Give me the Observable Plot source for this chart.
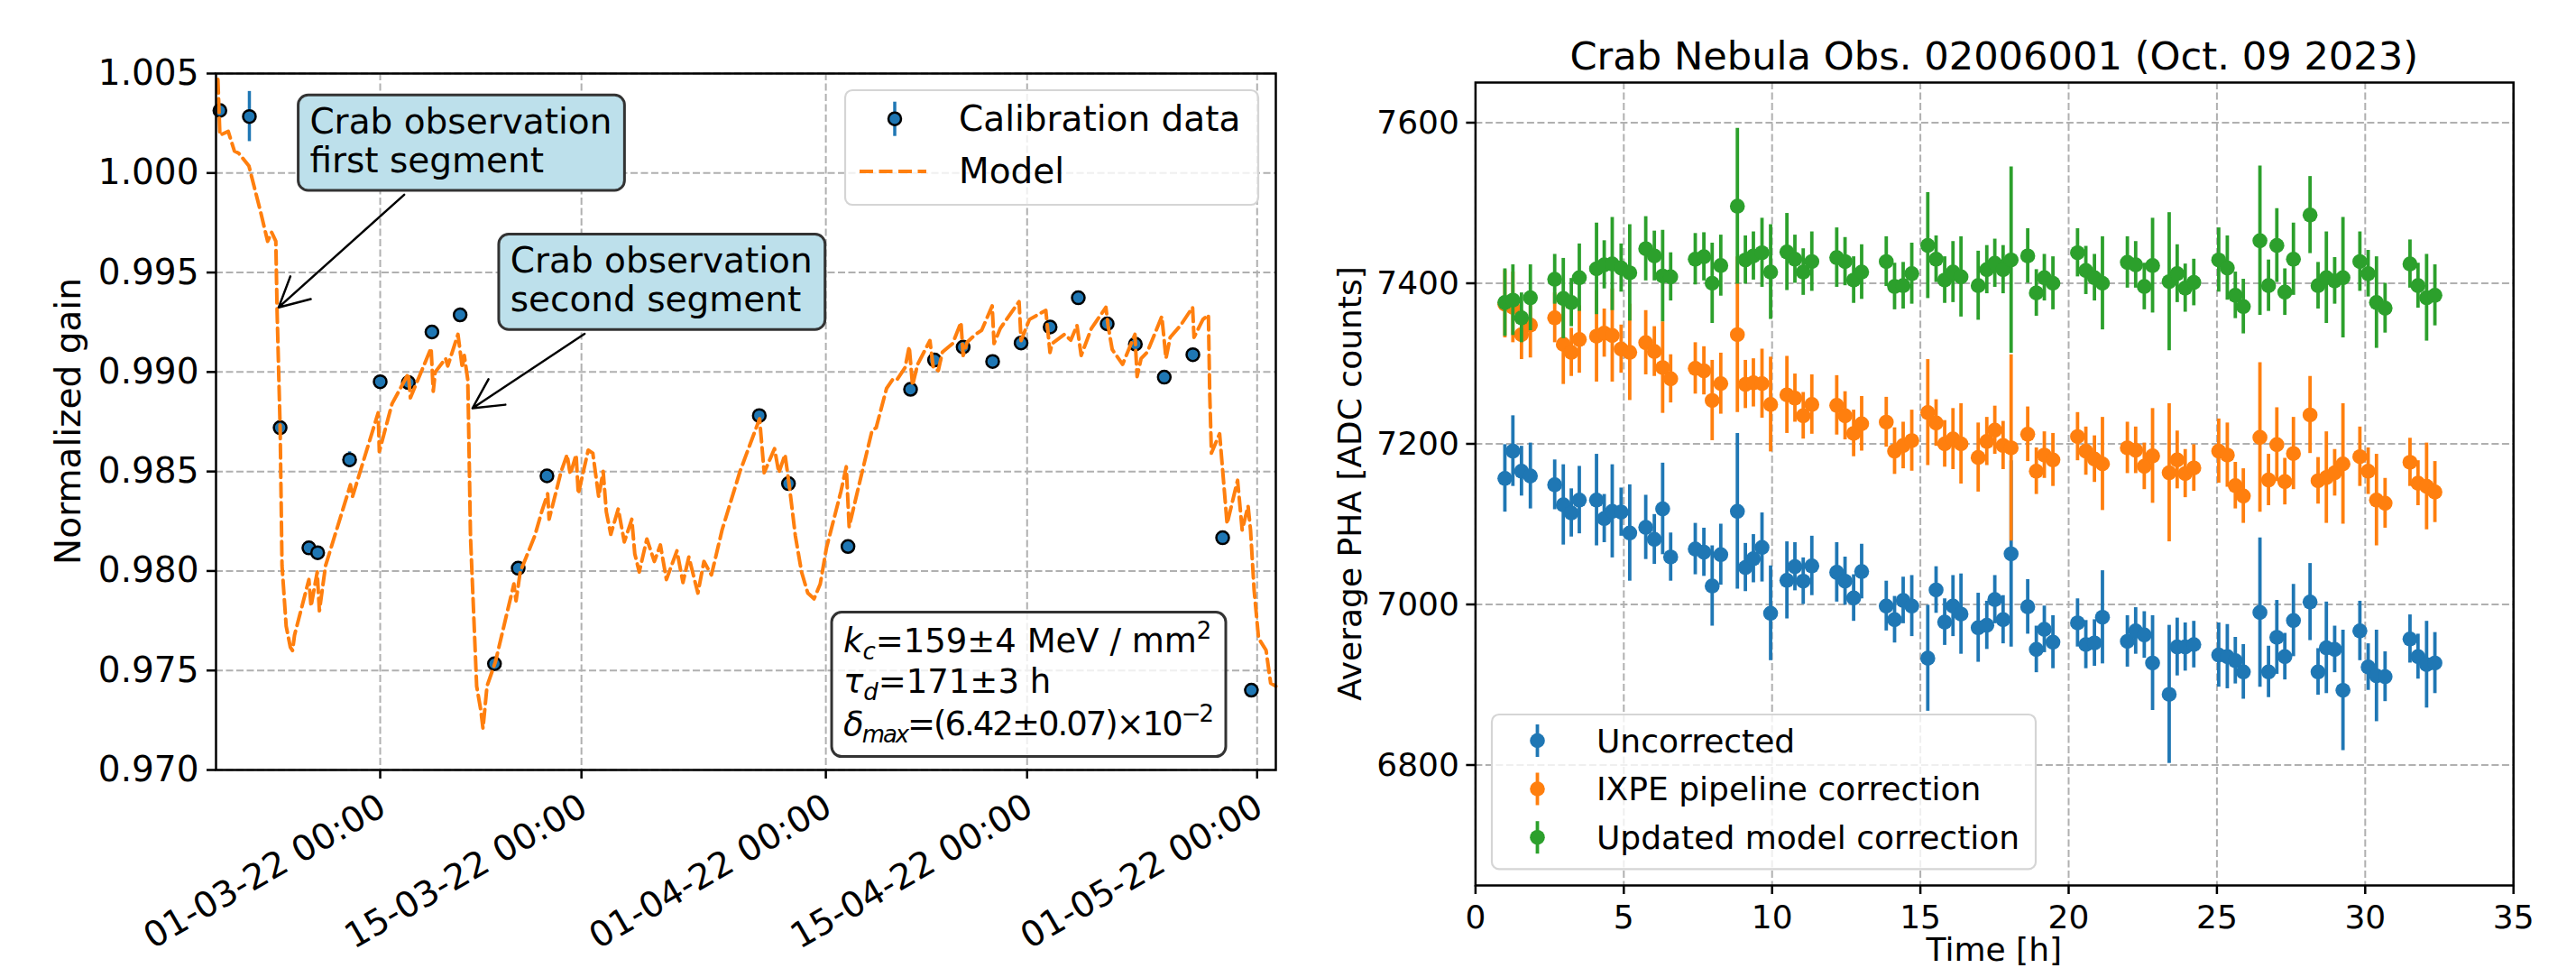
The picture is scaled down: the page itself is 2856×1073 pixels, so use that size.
<!DOCTYPE html>
<html><head><meta charset="utf-8">
<script src="https://cdn.jsdelivr.net/npm/d3@7"></script>
<script src="https://cdn.jsdelivr.net/npm/@observablehq/plot@0.6"></script>
<style>
html,body{margin:0;padding:0;background:#fff;}
#fig{position:relative;width:2856px;height:1073px;overflow:hidden;background:#fff;font-family:"DejaVu Sans";}
#left{position:absolute;left:0;top:0;}
#right{position:absolute;left:1450px;top:0;}
</style></head>
<body><div id="fig"><div id="left"></div><div id="right"></div></div>
<script>
// ================= LEFT PANEL DATA =================
// calibration points: days since 2022-03-01 00:00 UTC
const caliDays = [-11.15, -9.10, -6.96, -4.96, -4.35, -2.13, 0.00, 1.96, 3.60, 5.56, 7.95, 9.60, 11.60,
  26.37, 28.40, 32.54, 36.89, 38.56, 40.55, 42.60, 44.58, 46.60, 48.56, 50.57, 52.53, 54.54, 56.53, 58.60, 60.60];
const caliGain = [1.00314, 1.00284, 0.98720, 0.98116, 0.98092, 0.98559, 0.98951, 0.98947, 0.99201, 0.99287, 0.97534, 0.98014, 0.98478,
  0.98781, 0.98439, 0.98123, 0.98913, 0.99060, 0.99125, 0.99053, 0.99146, 0.99226, 0.99373, 0.99242, 0.99140, 0.98974, 0.99087, 0.98167, 0.97401];
const caliErr = [0.00010, 0.00126, 0.00015, 0.00015, 0.00010, 0.00040, 0.00020, 0.00020, 0.00010, 0.00010, 0.00020, 0.00010, 0.00010,
  0.00020, 0.00010, 0.00010, 0.00020, 0.00020, 0.00020, 0.00030, 0.00010, 0.00010, 0.00020, 0.00020, 0.00010, 0.00020, 0.00030, 0.00010, 0.00010];

const modelDays = [-11.29,-11.15,-10.57,-10.14,-9.85,-9.13,-8.33,-7.83,-7.55,-7.26,-7.17,-6.96,-6.83,-6.54,-6.25,-6.10,-5.96,
  -4.96,-4.81,-4.38,-4.23,-3.80,-2.07,-1.93,-0.14,-0.06,0.82,1.96,2.10,3.54,3.69,3.83,4.55,4.70,5.41,5.71,5.85,6.09,6.14,6.28,
  6.71,7.00,7.15,7.43,8.01,9.30,9.45,9.74,10.75,11.23,11.65,11.75,12.59,13.00,13.22,13.63,13.78,14.47,14.79,15.20,15.51,15.73,
  16.04,16.56,16.98,17.50,17.71,18.02,18.55,19.07,19.49,19.91,20.64,21.06,21.47,22.10,22.52,23.04,23.78,25.03,26.39,26.71,27.43,
  27.73,28.16,28.45,28.88,29.31,29.74,30.18,30.61,31.04,32.05,32.42,32.62,33.20,34.21,34.50,35.22,35.65,
  35.94,36.51,36.80,37.03,37.38,38.24,38.47,38.82,39.11,39.82,40.40,40.55,40.83,41.41,41.84,42.57,42.70,43.14,44.44,44.58,45.16,
  46.30,46.59,46.74,47.60,48.04,48.47,48.76,49.47,50.48,50.63,50.92,51.64,52.50,52.65,52.93,53.36,54.37,54.66,54.95,55.67,56.51,
  56.61,57.23,57.61,57.70,57.82,58.39,58.91,59.64,59.96,60.37,60.54,60.79,61.10,61.62,61.94,62.30];
const modelGain = [1.0047,1.0019,1.00209,1.0011,1.0010,1.00035,0.99808,0.99657,0.99702,0.99657,0.99300,0.98720,0.98027,0.97723,0.97617,0.97600,0.97677,
  0.97957,0.97822,0.97995,0.97800,0.98027,0.98433,0.98373,0.98795,0.98600,0.98840,0.98992,0.98870,0.99120,0.98903,0.99000,0.99068,0.99030,0.99189,0.99022,0.99083,0.98962,0.98780,0.98176,
  0.97421,0.97300,0.97209,0.97421,0.97542,0.97935,0.97850,0.97995,0.98176,0.98297,0.98388,0.98260,0.98501,0.98584,0.98486,0.98584,0.98388,0.98607,0.98592,0.98373,0.98501,0.98297,
  0.98184,0.98312,0.98146,0.98260,0.98086,0.97995,0.98161,0.98048,0.98131,0.97957,0.98101,0.97942,0.98070,0.97889,0.98048,0.97980,0.98206,0.98501,0.98765,0.98494,0.98615,
  0.98494,0.98585,0.98433,0.98176,0.97995,0.97890,0.97860,0.97935,0.98115,0.98400,0.98524,0.98222,0.98400,0.98705,0.98720,0.98917,0.98963,
  0.98960,0.99022,0.99128,0.98932,0.99038,0.99158,0.99022,0.99007,0.99100,0.99143,0.99249,0.99083,0.99150,0.99189,0.99210,0.99332,0.99143,0.99220,0.99354,0.99158,0.99264,
  0.99310,0.99098,0.99143,0.99189,0.99160,0.99234,0.99083,0.99219,0.99325,0.99234,0.99113,0.99038,0.99189,0.98977,0.99068,0.99100,0.99279,0.99068,0.99174,0.99234,0.99325,
  0.99174,0.99264,0.99287,0.98900,0.98592,0.98690,0.98237,0.98456,0.98206,0.98327,0.98206,0.97904,0.97662,0.97602,0.97436,0.97421];

const gainTicks = [0.970, 0.975, 0.980, 0.985, 0.990, 0.995, 1.000, 1.005];
const dateTicks = ["2022-03-01", "2022-03-15", "2022-04-01", "2022-04-15", "2022-05-01"];
const leftDomainDays = [-11.42, 62.30];
const leftLegendLabels = ["Calibration data", "Model"];

const annoLines = [["Crab observation", "first segment"], ["Crab observation", "second segment"]];
const annoTextDay = [-4.87, 9.08];
const annoTextGain = [1.00198, 0.99499];
const annoTailDay = [1.67, 14.22];
const annoTailGain = [0.99891, 0.99192];
const annoTipDay = [-7.06, 6.42];
const annoTipGain = [0.99325, 0.98818];

const paramDay = 32.25, paramGain = 0.97588;

// ================= RIGHT PANEL DATA =================
const timeH = [0.99,1.26,1.55,1.85, 2.67,2.96,3.23,3.50, 4.08,4.34,4.61,4.91,5.20, 5.74,6.03,6.31,6.58, 7.41,7.70,7.98,8.27,
  8.83,9.10,9.37,9.66,9.95, 10.50,10.77,11.05,11.34, 12.18,12.46,12.75,13.02, 13.85,14.13,14.42,14.71, 15.25,15.53,15.82,16.10,16.37,
  16.95,17.24,17.51,17.79,18.06, 18.62,18.91,19.18,19.47, 20.30,20.58,20.87,21.14, 21.98,22.26,22.55,22.83, 23.39,23.66,23.93,24.22,
  25.06,25.35,25.62,25.89, 26.45,26.74,27.02,27.29,27.58, 28.14,28.41,28.69,28.97,29.25, 29.82,30.10,30.38,30.67, 31.51,31.78,32.07,32.35];
const phaRaw = [7157,7191,7166,7160, 7149,7124,7114,7130, 7130,7107,7116,7115,7089, 7096,7081,7119,7059, 7069,7065,7023,7062,
  7116,7046,7057,7071,6989, 7030,7047,7029,7048, 7040,7029,7008,7041, 6998,6981,7005,6998, 6933,7018,6978,6998,6988,
  6971,6974,7006,6981,7063, 6997,6944,6969,6953, 6977,6950,6952,6984, 6954,6967,6962,6927, 6888,6947,6947,6950,
  6937,6935,6930,6916, 6990,6916,6959,6935,6980, 7003,6916,6946,6944,6893, 6967,6922,6911,6910, 6957,6935,6925,6927];
const phaPipeline = [7374,7370,7336,7348, 7357,7324,7314,7330, 7334,7338,7335,7318,7314, 7326,7315,7295,7281, 7294,7291,7254,7275,
  7336,7274,7276,7275,7249, 7261,7257,7235,7249, 7248,7235,7213,7225, 7227,7191,7198,7204, 7239,7226,7200,7206,7200,
  7183,7203,7217,7198,7195, 7212,7166,7186,7180, 7209,7191,7181,7175, 7195,7192,7172,7185, 7164,7180,7163,7170,
  7191,7186,7148,7135, 7208,7155,7199,7153,7188, 7236,7154,7158,7164,7175, 7184,7166,7130,7126, 7177,7151,7147,7140];
const phaModel = [7376,7379,7357,7382, 7405,7381,7376,7407, 7418,7423,7424,7419,7413, 7443,7434,7409,7408, 7430,7433,7400,7422,
  7496,7429,7434,7438,7414, 7439,7430,7414,7427, 7432,7427,7404,7414, 7427,7396,7397,7412, 7447,7430,7404,7414,7408,
  7397,7417,7425,7417,7429, 7434,7388,7407,7400, 7438,7416,7407,7400, 7426,7423,7396,7422, 7402,7412,7394,7401,
  7429,7419,7385,7371, 7453,7397,7447,7389,7430, 7485,7397,7407,7403,7407, 7427,7412,7376,7369, 7424,7397,7382,7385];
const phaErr = [42,44,31,41, 31,50,30,42, 57,30,58,30,60, 40,31,57,30, 32,30,50,38, 97,30,30,43,59, 48,30,29,37, 37,30,29,34,
  31,29,29,38, 66,29,29,38,50, 43,30,30,30,116, 34,29,29,33, 30,30,29,58, 32,29,29,59, 86,36,30,29, 40,40,29,34,
  93,32,46,29,45, 48,29,57,29,75, 37,29,57,31, 30,28,54,38];
const seriesNames = ["Uncorrected", "IXPE pipeline correction", "Updated model correction"];
const seriesColors = ["#1f77b4", "#ff7f0e", "#2ca02c"];
const timeTicks = [0, 5, 10, 15, 20, 25, 30, 35];
const phaTicks = [6800, 7000, 7200, 7400, 7600];
const rightTitle = "Crab Nebula Obs. 02006001 (Oct. 09 2023)";

// ================= LEFT PANEL =================
const FONT = "DejaVu Sans";
const base = Date.UTC(2022, 2, 1);
const toDate = d => new Date(base + d * 864e5);
const cali = caliDays.map((d, i) => ({date: toDate(d), gain: caliGain[i], err: caliErr[i]}));
const model = modelDays.map((d, i) => ({date: toDate(d), gain: modelGain[i]}));
const tickDates = dateTicks.map(s => new Date(s + "T00:00:00Z"));
const annos = annoLines.map((l, i) => ({lines: l, tx: toDate(annoTextDay[i]), ty: annoTextGain[i],
  x1: toDate(annoTailDay[i]), y1: annoTailGain[i], x2: toDate(annoTipDay[i]), y2: annoTipGain[i]}));

const LM = {w: 1450, h: 1073, l: 239, r: 36, t: 81, b: 220};
const gridStyle = {stroke: "#b0b0b0", strokeOpacity: 1, strokeWidth: 2, strokeDasharray: "8,3.5"};

const left = Plot.plot({
  width: LM.w, height: LM.h, marginLeft: LM.l, marginRight: LM.r, marginTop: LM.t, marginBottom: LM.b,
  style: {fontFamily: FONT, fontSize: "39px", background: "transparent", overflow: "visible"},
  x: {type: "utc", domain: leftDomainDays.map(toDate)},
  y: {domain: [0.970, 1.005]},
  marks: [
    Plot.gridX(tickDates, gridStyle),
    Plot.gridY(gainTicks, gridStyle),
    Plot.ruleX(cali, {x: "date", y1: d => d.gain - d.err, y2: d => d.gain + d.err, stroke: "#1f77b4", strokeWidth: 3.5}),
    Plot.dot(cali, {x: "date", y: "gain", r: 7, fill: "#1f77b4", stroke: "black", strokeWidth: 2.5}),
    Plot.line(model, {x: "date", y: "gain", stroke: "#ff7f0e", strokeWidth: 4, strokeDasharray: "15,6.5"}),
    Plot.arrow(annos, {x1: "x1", y1: "y1", x2: "x2", y2: "y2", stroke: "black", strokeWidth: 2.5, headLength: 22, headAngle: 55}),
    Plot.frame({stroke: "black", strokeWidth: 2.5}),
    Plot.axisY(gainTicks, {tickSize: 10, tickPadding: 9, tickFormat: d3.format(".3f"), fontSize: 39, strokeWidth: 2.5, label: null}),
    Plot.axisX(tickDates, {tickSize: 10, tickFormat: () => "", strokeWidth: 2.5, label: null})
  ]
});
document.getElementById("left").appendChild(left);

{
  const sx = left.scale("x"), sy = left.scale("y");
  const g = d3.select(left).append("g").attr("font-family", FONT).attr("text-anchor", "start").attr("fill", "black");
  const fBottom = LM.h - LM.b, fRight = LM.w - LM.r;
  // rotated date tick labels
  const fmt = d3.utcFormat("%d-%m-%y %H:%M");
  for (const d of tickDates) {
    g.append("text").attr("transform", `translate(${sx.apply(d) + 9.5},${fBottom + 48.5}) rotate(-30)`)
      .attr("text-anchor", "end").attr("font-size", 39).text(fmt(d));
  }
  // y label
  g.append("text").attr("transform", `translate(89,${(LM.t + fBottom) / 2}) rotate(-90)`)
    .attr("text-anchor", "middle").attr("font-size", 39).text("Normalized gain");

  // annotation boxes
  for (const a of annos) {
    const ax = sx.apply(a.tx), ay = sy.apply(a.ty);
    const bg = g.append("g");
    const rect = bg.append("rect");
    const t = bg.append("text").attr("x", ax).attr("y", ay).attr("font-size", 39).attr("text-anchor", "start");
    a.lines.forEach((s, i) => t.append("tspan").attr("x", ax).attr("y", ay + i * 43.5).text(s));
    const bb = t.node().getBBox();
    rect.attr("x", ax - 12.8).attr("y", ay - 42.3).attr("width", bb.width + 26.8).attr("height", 105.7)
      .attr("rx", 11).attr("fill", "rgb(189,224,235)").attr("stroke", "#333").attr("stroke-width", 3);
  }

  // parameter box
  const px = sx.apply(toDate(paramDay)), py = sy.apply(paramGain);
  const pg = g.append("g");
  const prect = pg.append("rect");
  const fs = 37;
  const lines = [
    [{t: "k", i: 1}, {t: "c", i: 1, sub: 1}, {t: "=159±4 MeV / mm"}, {t: "2", sup: 1}],
    [{t: "τ", i: 1}, {t: "d", i: 1, sub: 1}, {t: "=171±3 h"}],
    [{t: "δ", i: 1}, {t: "max", i: 1, sub: 1}, {t: "=(6.42±0.07)×10"}, {t: "−2", sup: 1}]
  ];
  const lineOffsets = [0, 45, 92];
  const lineSpacing = [0, 0, -2];
  let maxW = 0;
  lines.forEach((parts, li) => {
    const t = pg.append("text").attr("x", px).attr("y", py + lineOffsets[li]).attr("font-size", fs)
      .attr("text-anchor", "start").attr("letter-spacing", lineSpacing[li]);
    let shift = 0;
    for (const p of parts) {
      const target = p.sub ? 0.2 * fs : p.sup ? -0.42 * fs : 0;
      const ts = t.append("tspan").attr("dy", target - shift).text(p.t);
      shift = target;
      if (p.i) ts.attr("font-style", "italic");
      if (p.sub || p.sup) ts.attr("font-size", fs * 0.7);
    }
    maxW = Math.max(maxW, t.node().getBBox().width);
  });
  prect.attr("x", px - 13).attr("y", py - 44.7).attr("width", Math.min(maxW + 28, 444)).attr("height", 160)
    .attr("rx", 11).attr("fill", "white").attr("fill-opacity", 0.8).attr("stroke", "#333").attr("stroke-width", 3);

  // legend
  const lgx = fRight - 19 - 458, lgy = LM.t + 19;
  const lg = g.append("g");
  lg.append("rect").attr("x", lgx).attr("y", lgy).attr("width", 458).attr("height", 127).attr("rx", 8)
    .attr("fill", "white").attr("fill-opacity", 0.8).attr("stroke", "#d5d5d5").attr("stroke-width", 2.2);
  const mx = lgx + 55, r1 = lgy + 31.7, r2 = lgy + 90;
  lg.append("line").attr("x1", mx).attr("x2", mx).attr("y1", r1 - 19).attr("y2", r1 + 19).attr("stroke", "#1f77b4").attr("stroke-width", 3.5);
  lg.append("circle").attr("cx", mx).attr("cy", r1).attr("r", 7).attr("fill", "#1f77b4").attr("stroke", "black").attr("stroke-width", 2.5);
  lg.append("line").attr("x1", lgx + 16).attr("x2", lgx + 90).attr("y1", r2).attr("y2", r2).attr("stroke", "#ff7f0e").attr("stroke-width", 4).attr("stroke-dasharray", "15,6.5");
  lg.append("text").attr("x", lgx + 126).attr("y", r1 + 13.3).attr("font-size", 39).text(leftLegendLabels[0]);
  lg.append("text").attr("x", lgx + 126).attr("y", r2 + 13.3).attr("font-size", 39).text(leftLegendLabels[1]);
}

// ================= RIGHT PANEL =================
const RM = {w: 1406, h: 1073, l: 185.4, r: 69.8, t: 91, b: 92};
const series = [phaRaw, phaPipeline, phaModel].map((vals, s) => timeH.map((t, i) => ({t, v: vals[i], e: phaErr[i]})));
const right = Plot.plot({
  width: RM.w, height: RM.h, marginLeft: RM.l, marginRight: RM.r, marginTop: RM.t, marginBottom: RM.b,
  style: {fontFamily: FONT, fontSize: "36px", background: "transparent", overflow: "visible"},
  x: {domain: [0, 35]},
  y: {domain: [6650, 7650]},
  marks: [
    Plot.gridX(timeTicks, gridStyle),
    Plot.gridY(phaTicks, gridStyle),
    ...series.flatMap((rows, s) => [
      Plot.ruleX(rows, {x: "t", y1: d => d.v - d.e, y2: d => d.v + d.e, stroke: seriesColors[s], strokeWidth: 3.8}),
      Plot.dot(rows, {x: "t", y: "v", r: 8.3, fill: seriesColors[s]})
    ]),
    Plot.frame({stroke: "black", strokeWidth: 2.5}),
    Plot.axisX(timeTicks, {tickSize: 10, tickPadding: 12, fontSize: 36, strokeWidth: 2.5, tickFormat: d3.format("d"), label: null}),
    Plot.axisY(phaTicks, {tickSize: 10, tickPadding: 8, fontSize: 36, strokeWidth: 2.5, tickFormat: d3.format("d"), label: null})
  ]
});
document.getElementById("right").appendChild(right);

{
  const g = d3.select(right).append("g").attr("font-family", FONT).attr("text-anchor", "start").attr("fill", "black");
  const fLeft = RM.l, fRight = RM.w - RM.r, fTop = RM.t, fBottom = RM.h - RM.b;
  const cx = (fLeft + fRight) / 2;
  g.append("text").attr("x", cx).attr("y", 76.7).attr("text-anchor", "middle").attr("font-size", 43.2).text(rightTitle);
  g.append("text").attr("x", cx).attr("y", 1065).attr("text-anchor", "middle").attr("font-size", 36).text("Time [h]");
  g.append("text").attr("transform", `translate(58.5,${(fTop + fBottom) / 2}) rotate(-90)`)
    .attr("text-anchor", "middle").attr("font-size", 36).text("Average PHA [ADC counts]");
  // legend
  const lx = fLeft + 18.6, lw = 603, lh = 171.4, ly = fBottom - 17.6 - lh;
  g.append("rect").attr("x", lx).attr("y", ly).attr("width", lw).attr("height", lh).attr("rx", 8)
    .attr("fill", "white").attr("fill-opacity", 0.8).attr("stroke", "#d5d5d5").attr("stroke-width", 2.2);
  const rows = [ly + 29, ly + 82.5, ly + 136.2];
  seriesNames.forEach((name, i) => {
    const mx = lx + 50.5;
    g.append("line").attr("x1", mx).attr("x2", mx).attr("y1", rows[i] - 18).attr("y2", rows[i] + 18).attr("stroke", seriesColors[i]).attr("stroke-width", 3.8);
    g.append("circle").attr("cx", mx).attr("cy", rows[i]).attr("r", 8.3).attr("fill", seriesColors[i]);
    g.append("text").attr("x", lx + 116).attr("y", rows[i] + 12.6).attr("font-size", 36).attr("text-anchor", "start").text(name);
  });
}
</script>
</body></html>
